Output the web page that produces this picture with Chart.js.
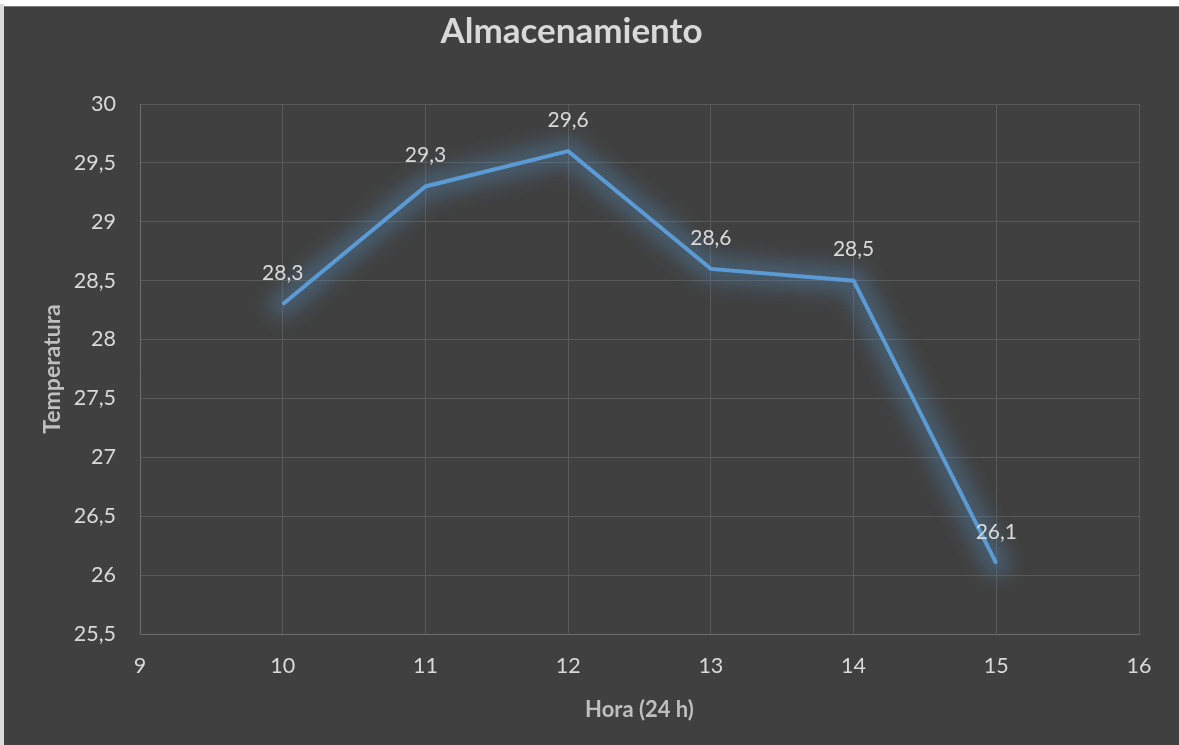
<!DOCTYPE html>
<html lang="es">
<head>
<meta charset="utf-8">
<title>Almacenamiento</title>
<script src="https://cdn.jsdelivr.net/npm/chart.js@4.4.1/dist/chart.umd.min.js"></script>
<style>
  html, body { margin: 0; padding: 0; background: #ffffff; width: 1179px; height: 745px; overflow: hidden; }
  #edge { position: absolute; left: 0; top: 4px; width: 4px; bottom: 0; background: #dadada; }
  #frame { position: absolute; left: 4px; top: 6px; width: 1175px; height: 739px; background: #404040; border-top: 1px solid #7a7a7a; box-sizing: border-box; }
  canvas { display: block; }
</style>
</head>
<body>
<div id="edge"></div>
<div id="frame"><canvas id="chart" width="1175" height="738"></canvas></div>
<script>
// Hourly storage temperature readings
const horas = [10, 11, 12, 13, 14, 15];
const temperaturas = [28.3, 29.3, 29.6, 28.6, 28.5, 26.1];

// Axis ranges and tick steps
const xRange = [9, 16];
const xStep = 1;
const yRange = [25.5, 30];
const yStep = 0.5;

const FONT = 'Lato, "Open Sans", "DejaVu Sans", sans-serif';
const TEXT = '#d9d9d9';
const AXIS_TITLE = '#bfbfbf';
const GRID = '#595959';
const AXIS_LINE = '#6e6e6e';
const LINE = '#5b9bd5';

const fmt = v => Number(v.toFixed(1)).toString().replace('.', ',');

// Soft blue halo drawn under the series line, following the line's own points
const glow = {
  id: 'glow',
  beforeDatasetDraw(chart) {
    const ctx = chart.ctx;
    const pts = chart.getDatasetMeta(0).data;
    if (!pts.length) return;
    ctx.save();
    ctx.filter = 'blur(9px)';
    ctx.strokeStyle = 'rgba(91, 155, 213, 0.3)';
    ctx.lineWidth = 28;
    ctx.lineJoin = 'round';
    ctx.lineCap = 'round';
    ctx.beginPath();
    pts.forEach((p, i) => (i ? ctx.lineTo(p.x, p.y) : ctx.moveTo(p.x, p.y)));
    ctx.stroke();
    ctx.restore();
  }
};

// Value labels above each point
const valueLabels = {
  id: 'valueLabels',
  afterDatasetsDraw(chart) {
    const ctx = chart.ctx;
    const meta = chart.getDatasetMeta(0);
    ctx.save();
    ctx.font = '21px ' + FONT;
    ctx.fillStyle = TEXT;
    ctx.textAlign = 'center';
    ctx.textBaseline = 'middle';
    meta.data.forEach((pt, i) => {
      ctx.fillText(fmt(temperaturas[i]), pt.x, pt.y - 31);
    });
    ctx.restore();
  }
};

new Chart(document.getElementById('chart'), {
  type: 'scatter',
  data: {
    datasets: [{
      label: 'Temperatura',
      data: horas.map((h, i) => ({ x: h, y: temperaturas[i] })),
      showLine: true,
      borderColor: LINE,
      backgroundColor: LINE,
      borderWidth: 4,
      pointRadius: 0,
      pointHoverRadius: 0,
      tension: 0
    }]
  },
  options: {
    responsive: false,
    animation: false,
    devicePixelRatio: 1,
    layout: { padding: { left: 0, right: 40, top: 0, bottom: 0 } },
    plugins: {
      legend: { display: false },
      tooltip: { enabled: false },
      title: {
        display: true,
        text: 'Almacenamiento',
        color: TEXT,
        font: { family: FONT, size: 35, weight: 'bold', lineHeight: 1.2 },
        padding: { top: 4, bottom: 51 }
      }
    },
    scales: {
      x: {
        type: 'linear',
        min: xRange[0],
        max: xRange[1],
        afterFit(scale) { scale.height = 111; },
        ticks: { stepSize: xStep, color: TEXT, padding: 19, font: { family: FONT, size: 21.5 }, callback: v => fmt(v) },
        grid: { color: GRID, lineWidth: 1, drawTicks: false },
        border: { color: AXIS_LINE, width: 1 },
        title: { display: true, text: 'Hora (24 h)', color: AXIS_TITLE, font: { family: FONT, size: 22, weight: 'bold', lineHeight: 1.2 }, padding: { top: 0, bottom: 21.8 } }
      },
      y: {
        type: 'linear',
        min: yRange[0],
        max: yRange[1],
        afterFit(scale) { scale.width = 136; },
        ticks: { stepSize: yStep, color: TEXT, padding: 24, font: { family: FONT, size: 21.5 }, callback: v => fmt(v) },
        grid: { color: GRID, lineWidth: 1, drawTicks: false },
        border: { color: AXIS_LINE, width: 1 },
        title: { display: true, text: 'Temperatura', color: AXIS_TITLE, font: { family: FONT, size: 23, weight: 'bold', lineHeight: 1.2 }, padding: { top: 35.2, bottom: 0 } }
      }
    }
  },
  plugins: [glow, valueLabels]
});
</script>
</body>
</html>
